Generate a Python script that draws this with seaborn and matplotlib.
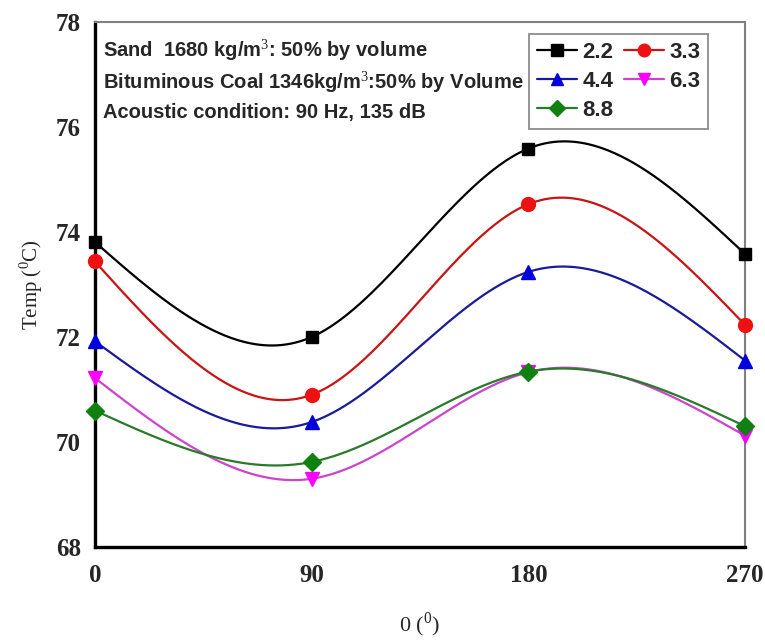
import numpy as np
import pandas as pd
import matplotlib
matplotlib.use("Agg")
import matplotlib.pyplot as plt
from matplotlib.lines import Line2D
import seaborn as sns

# Angular position (degrees) and temperature readings for each series
angles = [0, 90, 180, 270]
series_names = ["2.2", "3.3", "4.4", "6.3", "8.8"]
temp_2_2 = [73.81, 72.00, 75.59, 73.58]
temp_3_3 = [73.44, 70.90, 74.53, 72.23]
temp_4_4 = [71.92, 70.38, 73.24, 71.55]
temp_6_3 = [71.22, 69.30, 71.33, 70.12]
temp_8_8 = [70.60, 69.62, 71.34, 70.30]

y_ticks = [68, 70, 72, 74, 76, 78]
x_ticks = [0, 90, 180, 270]

line_colors = ["#000000", "#c81414", "#1a1a9a", "#cc44cc", "#2a7a2a"]
marker_colors = ["#000000", "#ee1111", "#0000dd", "#ff00ff", "#108010"]
markers = ["s", "o", "^", "v", "D"]
marker_sizes = [9, 10, 10, 10, 9]


def natural_spline(x, y, num=300):
    """Natural cubic spline through the points, evaluated on a fine grid."""
    x = np.asarray(x, float)
    y = np.asarray(y, float)
    n = len(x)
    h = np.diff(x)
    A = np.zeros((n, n))
    b = np.zeros(n)
    A[0, 0] = A[-1, -1] = 1.0
    for i in range(1, n - 1):
        A[i, i - 1] = h[i - 1]
        A[i, i] = 2 * (h[i - 1] + h[i])
        A[i, i + 1] = h[i]
        b[i] = 3 * ((y[i + 1] - y[i]) / h[i] - (y[i] - y[i - 1]) / h[i - 1])
    c = np.linalg.solve(A, b)
    xs = np.linspace(x[0], x[-1], num)
    idx = np.clip(np.searchsorted(x, xs, side="right") - 1, 0, n - 2)
    dx = xs - x[idx]
    bcoef = (y[1:] - y[:-1]) / h - h * (2 * c[:-1] + c[1:]) / 3
    dcoef = (c[1:] - c[:-1]) / (3 * h)
    ys = y[idx] + bcoef[idx] * dx + c[idx] * dx ** 2 + dcoef[idx] * dx ** 3
    return xs, ys


all_series = [temp_2_2, temp_3_3, temp_4_4, temp_6_3, temp_8_8]
points = pd.DataFrame(
    [(a, t, name) for name, vals in zip(series_names, all_series) for a, t in zip(angles, vals)],
    columns=["angle", "temp", "series"],
)
curves = []
for name, vals in zip(series_names, all_series):
    xs, ys = natural_spline(angles, vals)
    curves.append(pd.DataFrame({"angle": xs, "temp": ys, "series": name}))
curves = pd.concat(curves, ignore_index=True)

sns.set_theme(style="white")
plt.rcParams["font.family"] = ["Liberation Serif", "DejaVu Serif"]
plt.rcParams["mathtext.fontset"] = "custom"
plt.rcParams["mathtext.rm"] = "Liberation Serif"

fig = plt.figure(figsize=(7.65, 6.44), dpi=100)
ax = fig.add_axes([0.124, 0.1506, 0.850, 0.8152])

# Smooth curves first, then markers on top of them
for i, name in enumerate(series_names):
    sns.lineplot(data=curves[curves.series == name], x="angle", y="temp",
                 color=line_colors[i], lw=1.6, ax=ax, legend=False, sort=False,
                 zorder=2, clip_on=False)
for i, name in enumerate(series_names):
    sub = points[points.series == name]
    ax.plot(sub.angle, sub.temp, linestyle="none", marker=markers[i],
            ms=marker_sizes[i], color=marker_colors[i], zorder=3, clip_on=False)

ax.set_xlim(0, 270)
ax.set_ylim(68, 78)
ax.set_xticks(x_ticks)
ax.set_yticks(y_ticks)
ax.set_xticklabels([str(v) for v in x_ticks], fontsize=18, fontweight="bold",
                   family="Liberation Serif")
ax.set_yticklabels([str(v) for v in y_ticks], fontsize=18, fontweight="bold",
                   family="Liberation Serif")
ax.tick_params(axis="both", direction="in", length=10, width=1.8, color="black",
               pad=10)
ax.tick_params(axis="x", pad=12)

for side in ["left", "bottom"]:
    ax.spines[side].set_color("black")
    ax.spines[side].set_linewidth(2.4)
for side in ["top", "right"]:
    ax.spines[side].set_color("#808080")
    ax.spines[side].set_linewidth(1.5)

ax.set_xlabel(r"0 $(^{0})$", fontsize=16, labelpad=17)
ax.set_ylabel(r"Temp $(^{0}$C)", fontsize=15, labelpad=8)

# Material and acoustic condition notes
note_kw = dict(transform=ax.transAxes, fontsize=14.5, fontweight="bold",
               family="Liberation Sans", ha="left", va="center")
ax.text(0.012, 0.946, r"Sand  1680 kg/m$^{3}$: 50% by volume", **note_kw)
ax.text(0.012, 0.886, r"Bituminous Coal 1346kg/m$^{3}$:50% by Volume", **note_kw)
ax.text(0.012, 0.828, "Acoustic condition: 90 Hz, 135 dB", **note_kw)

handles = [
    Line2D([], [], color=line_colors[i], lw=1.6, marker=markers[i],
           ms=marker_sizes[i] - 1, markerfacecolor=marker_colors[i],
           markeredgecolor=marker_colors[i])
    for i in range(len(series_names))
]
order = [0, 2, 4, 1, 3]
leg = ax.legend([handles[i] for i in order], [series_names[i] for i in order],
                ncol=2, loc="upper right", bbox_to_anchor=(0.943, 0.977),
                prop={"family": "Liberation Sans", "weight": "bold", "size": 16},
                frameon=True, fancybox=False, edgecolor="#707070",
                handlelength=1.8, handletextpad=0.25, columnspacing=0.45,
                labelspacing=0.36, borderpad=0.35, borderaxespad=0.0)
leg.get_frame().set_linewidth(1.3)

fig.savefig("out.png", dpi=100, facecolor="white")
